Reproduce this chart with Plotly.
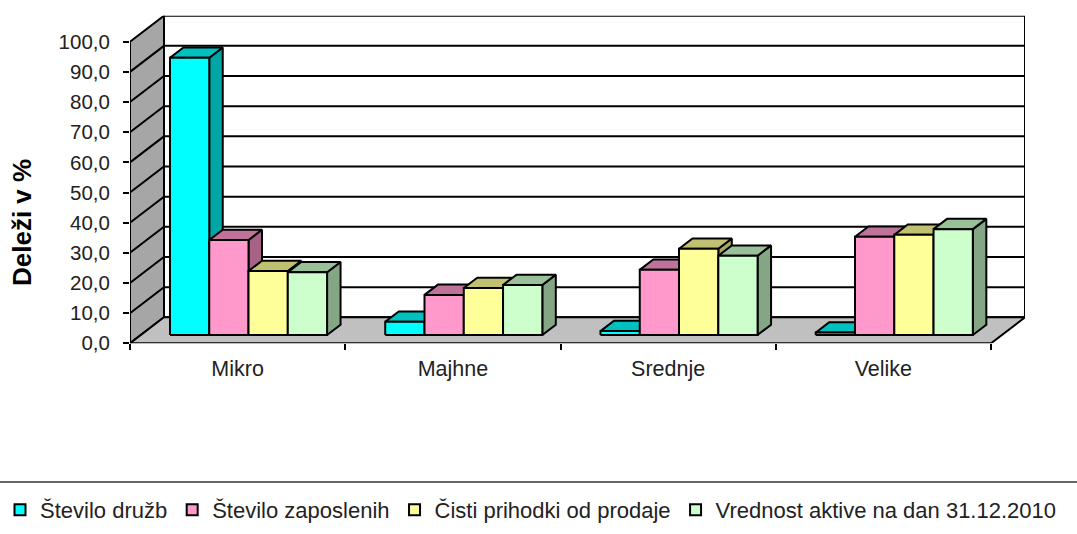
import plotly.graph_objects as go

categories = ["Mikro", "Majhne", "Srednje", "Velike"]
series_names = ["Število družb", "Število zaposlenih", "Čisti prihodki od prodaje",
                "Vrednost aktive na dan 31.12.2010"]
stevilo_druzb = [91.9, 4.4, 1.3, 0.8]
stevilo_zaposlenih = [31.5, 13.3, 21.6, 32.6]
cisti_prihodki = [21.2, 15.6, 28.6, 33.2]
vrednost_aktive = [20.8, 16.6, 26.3, 35.1]
series_values = [stevilo_druzb, stevilo_zaposlenih, cisti_prihodki, vrednost_aktive]

front_colors = ["#00FFFF", "#FF99CC", "#FFFF99", "#CCFFCC"]
top_colors = ["#00C0C0", "#C0739A", "#C0C073", "#99C099"]
side_colors = ["#00A6A6", "#A66385", "#A6A663", "#85A685"]

W, H = 1077, 534
L, R, T, B = 130, 1025, 15.7, 343.3
DEPTH_X = 34 / 215.4        # whole floor depth in category units
DEPTH_Y = 26 / 3.016        # whole floor depth in value units
BAR_W = 39.3 / 215.4
BAR_DX = 13.5 / 215.4
BAR_DY = 10.3 / 3.016
OFF_X = 10.9 / 215.4
OFF_Y = 8.3 / 3.016
GROUP_PAD = (1 - 4 * BAR_W) / 2
LINE = dict(color="black", width=2)


def poly(x, y, fill, line=LINE):
    return go.Scatter(x=x, y=y, mode="lines", fill="toself", fillcolor=fill, line=line,
                      showlegend=False, hoverinfo="skip", cliponaxis=False)


fig = go.Figure()
n = len(categories)
top = 100
# walls and floor
fig.add_trace(poly([DEPTH_X, n + DEPTH_X, n + DEPTH_X, DEPTH_X, DEPTH_X],
                   [DEPTH_Y, DEPTH_Y, top + DEPTH_Y, top + DEPTH_Y, DEPTH_Y], "white"))
fig.add_trace(poly([0, DEPTH_X, DEPTH_X, 0, 0], [0, DEPTH_Y, top + DEPTH_Y, top, 0], "#A6A6A6"))
fig.add_trace(poly([0, n, n + DEPTH_X, DEPTH_X, 0], [0, 0, DEPTH_Y, DEPTH_Y, 0], "#C0C0C0"))
# gridlines
gx, gy = [], []
for v in range(10, top, 10):
    gx += [0, DEPTH_X, n + DEPTH_X, None]
    gy += [v, v + DEPTH_Y, v + DEPTH_Y, None]
fig.add_trace(go.Scatter(x=gx, y=gy, mode="lines", line=LINE, showlegend=False,
                         hoverinfo="skip", cliponaxis=False))

# 3D bars, painted series by series
for s, vals in enumerate(series_values):
    sx, sy, tx, ty, fx, fy = [], [], [], [], [], []
    for c, v in enumerate(vals):
        x0 = c + GROUP_PAD + s * BAR_W + OFF_X
        x1 = x0 + BAR_W
        y0 = OFF_Y
        y1 = OFF_Y + v
        fx += [x0, x1, x1, x0, x0, None]
        fy += [y0, y0, y1, y1, y0, None]
        tx += [x0, x1, x1 + BAR_DX, x0 + BAR_DX, x0, None]
        ty += [y1, y1, y1 + BAR_DY, y1 + BAR_DY, y1, None]
        sx += [x1, x1 + BAR_DX, x1 + BAR_DX, x1, x1, None]
        sy += [y0, y0 + BAR_DY, y1 + BAR_DY, y1, y0, None]
    fig.add_trace(poly(sx, sy, side_colors[s]))
    fig.add_trace(poly(tx, ty, top_colors[s]))
    fig.add_trace(poly(fx, fy, front_colors[s]))

# legend entries
for s, name in enumerate(series_names):
    fig.add_trace(go.Scatter(x=[None], y=[None], mode="markers", name=name,
                             marker=dict(symbol="square", size=11, color=front_colors[s],
                                         line=dict(color="black", width=2))))

FONT = "Liberation Sans"
fig.update_layout(
    width=W, height=H,
    autosize=False,
    margin=dict(l=0, r=0, t=0, b=0, pad=0),
    paper_bgcolor="white", plot_bgcolor="white",
    font=dict(family=FONT, size=21, color="#222222"),
    showlegend=True,
    legend=dict(orientation="h", x=0, xanchor="left", y=1 - 510 / H, yanchor="middle",
                font=dict(family=FONT, size=22, color="#222222"),
                bgcolor="rgba(0,0,0,0)", traceorder="normal"),
    xaxis=dict(domain=[L / W, R / W], range=[0, n + DEPTH_X], tickmode="array",
               tickvals=[i + 0.5 for i in range(n)], ticktext=categories,
               ticks="", showgrid=False, zeroline=False, showline=False,
               ticklabelstandoff=10, tickfont=dict(size=21.5), automargin=False,
               minor=dict(tickmode="array", tickvals=list(range(n + 1)), ticks="outside",
                          ticklen=6, tickwidth=2, tickcolor="black", showgrid=False)),
    yaxis=dict(domain=[1 - B / H, 1 - T / H], range=[0, top + DEPTH_Y], tickmode="array",
               tickvals=list(range(0, top + 1, 10)),
               ticktext=[f"{v:.1f}".replace(".", ",") for v in range(0, top + 1, 10)],
               ticks="outside", ticklen=6, tickwidth=2, tickcolor="black", automargin=False,
               showgrid=False, zeroline=False, showline=False, tickfont=dict(size=20.5),
               ticklabelstandoff=9),
    annotations=[dict(text="<b>Deleži v %</b>", xref="paper", yref="paper",
                      x=22 / W, y=1 - 223 / H, xanchor="center", yanchor="middle",
                      textangle=-90, showarrow=False,
                      font=dict(family=FONT, size=26, color="black"))],
    shapes=[dict(type="line", xref="paper", yref="paper",
                 x0=0, x1=1, y0=1 - 482 / H, y1=1 - 482 / H,
                 line=dict(color="#666666", width=2))],
)
fig.write_html("out.html", config={"displayModeBar": False},
               post_script="document.body.style.margin='0';")
